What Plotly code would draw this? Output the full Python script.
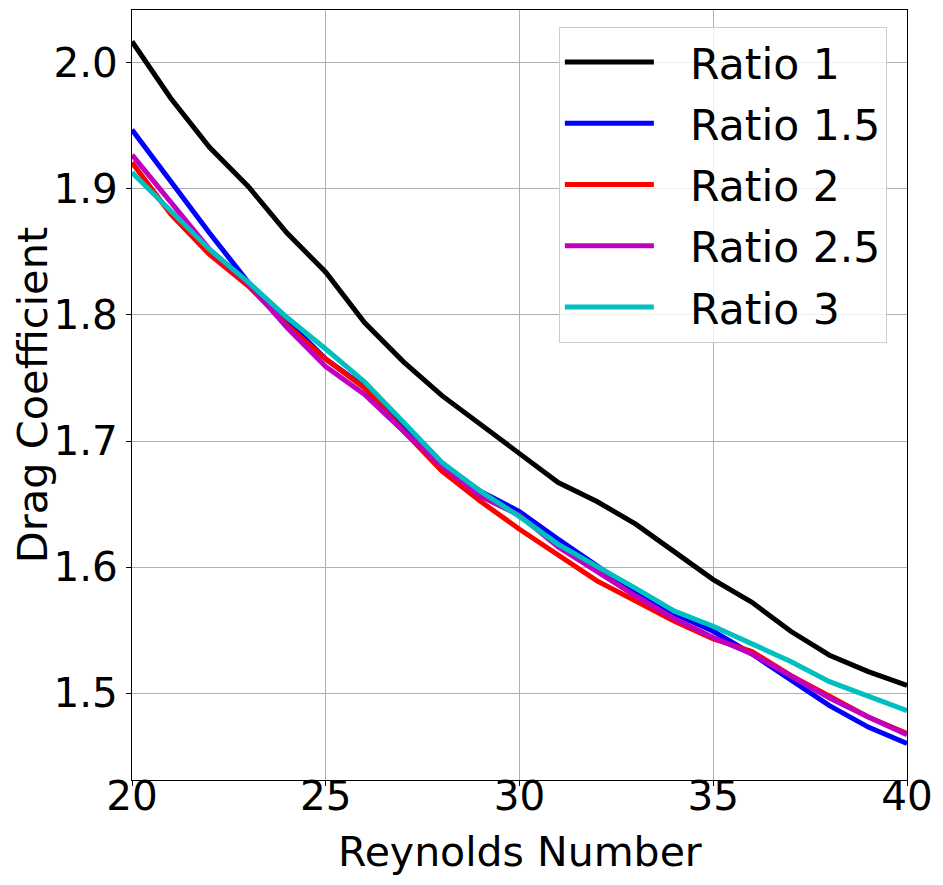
import plotly.graph_objects as go

reynolds = [20, 21, 22, 23, 24, 25, 26, 27, 28, 29, 30, 31, 32, 33, 34, 35, 36, 37, 38, 39, 40]

ratio_1 = [2.017, 1.972, 1.933, 1.902, 1.865, 1.834, 1.794, 1.763, 1.736, 1.713, 1.690,
           1.667, 1.652, 1.634, 1.612, 1.590, 1.572, 1.549, 1.530, 1.517, 1.506]
ratio_1_5 = [1.947, 1.906, 1.865, 1.826, 1.795, 1.765, 1.743, 1.712, 1.682, 1.660, 1.644,
             1.622, 1.601, 1.580, 1.563, 1.549, 1.531, 1.511, 1.490, 1.473, 1.460]
ratio_2 = [1.921, 1.880, 1.848, 1.823, 1.792, 1.765, 1.742, 1.708, 1.676, 1.652, 1.630,
           1.609, 1.589, 1.573, 1.557, 1.543, 1.533, 1.514, 1.497, 1.481, 1.468]
ratio_2_5 = [1.927, 1.890, 1.852, 1.825, 1.790, 1.759, 1.737, 1.708, 1.680, 1.656, 1.641,
             1.616, 1.596, 1.577, 1.559, 1.544, 1.531, 1.514, 1.496, 1.481, 1.467]
ratio_3 = [1.913, 1.883, 1.852, 1.826, 1.798, 1.773, 1.747, 1.715, 1.683, 1.660, 1.640,
           1.618, 1.601, 1.583, 1.565, 1.553, 1.539, 1.525, 1.509, 1.497, 1.486]

series_names = ["Ratio 1", "Ratio 1.5", "Ratio 2", "Ratio 2.5", "Ratio 3"]
series_values = [ratio_1, ratio_1_5, ratio_2, ratio_2_5, ratio_3]
series_colors = ["#000000", "#0000ff", "#ff0000", "#bf00bf", "#00bfbf"]

x_ticks = [20, 25, 30, 35, 40]
y_ticks = [1.5, 1.6, 1.7, 1.8, 1.9, 2.0]

fig = go.Figure()
pad = "\u00a0\u00a0\u200a"
for name, vals, col in zip(series_names, series_values, series_colors):
    fig.add_trace(go.Scatter(x=reynolds, y=vals, mode="lines", name=pad + name,
                             legendgroup=name,
                             line=dict(color=col, width=5)))

font_family = "DejaVu Sans"
axis_common = dict(
    showline=True, linecolor="black", linewidth=1.2, mirror=True,
    showgrid=True, gridcolor="#b0b0b0", gridwidth=1,
    ticks="outside", ticklen=5, tickwidth=1.2, tickcolor="black",
    tickfont=dict(family=font_family, size=40.5, color="black"),
    zeroline=False, automargin=False,
)

fig.update_layout(
    width=935, height=877,
    paper_bgcolor="white", plot_bgcolor="white",
    margin=dict(l=124, r=36, t=2, b=105),
    font=dict(family=font_family, color="black"),
    xaxis=dict(range=[20, 40], tickvals=x_ticks, ticktext=[str(v) for v in x_ticks],
               ticklabelstandoff=-25,
               **axis_common),
    yaxis=dict(range=[1.431, 2.042], tickvals=y_ticks, ticktext=[f"{v:.1f}" for v in y_ticks],
               title=dict(text="Drag Coefficient", font=dict(size=41.5), standoff=17),
               **axis_common),
    legend=dict(
        x=0.974, y=0.978, xanchor="right", yanchor="top",
        bgcolor="rgba(255,255,255,0.8)", bordercolor="#cccccc", borderwidth=1,
        font=dict(family=font_family, size=42.5, color="black"),
        itemwidth=89, tracegroupgap=3,
    ),
    annotations=[dict(
        text="Reynolds Number", xref="paper", yref="paper", x=0.5, y=0,
        xanchor="center", yanchor="middle", yshift=-72, showarrow=False,
        font=dict(family=font_family, size=41, color="black"),
    )],
    showlegend=True,
)

fig.write_html("out.html")
